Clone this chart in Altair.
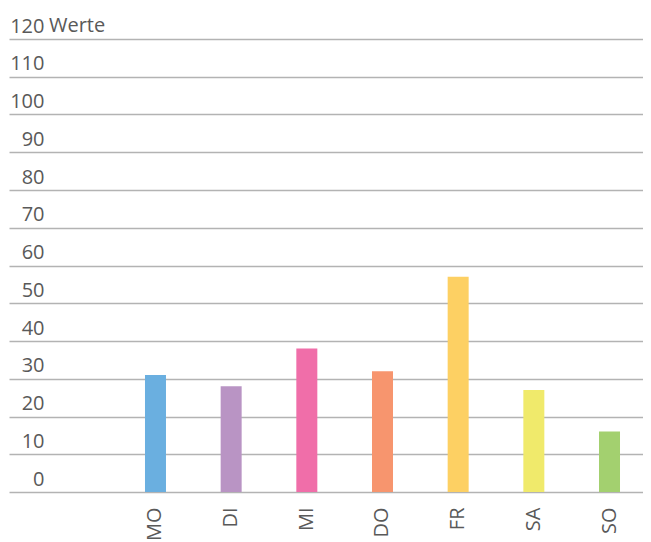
import altair as alt
import pandas as pd

days = ["MO", "DI", "MI", "DO", "FR", "SA", "SO"]
values = [31, 28, 38, 32, 57, 27, 16]
colors = ["#6aafe0", "#b994c4", "#f06ea9", "#f7956e", "#fdd063", "#f0ea6b", "#a3d06f"]
y_ticks = list(range(0, 121, 10))
unit_label = ["Werte"]
x_domain = [" "] + days  # empty leading slot as in the original

df = pd.DataFrame({"day": days, "value": values})

FONT = "Open Sans"
GRAY = "#595959"

y_axis = alt.Axis(
    title=None, values=y_ticks, labelFontSize=20, labelFont=FONT,
    labelColor=GRAY, domain=False, ticks=False, grid=True,
    gridColor="#b3b3b3", gridWidth=1.5, labelAlign="right",
    labelBaseline="alphabetic", labelPadding=-35, labelOffset=-7,
    labelOverlap=False,
)
y_scale = alt.Scale(domain=[0, 120], nice=False)

bars = alt.Chart(df).mark_bar().encode(
    x=alt.X(
        "day:N",
        sort=days,
        scale=alt.Scale(domain=x_domain, paddingInner=0.7225, paddingOuter=0.5505, align=0.724),
        axis=alt.Axis(
            title=None, labelAngle=270, labelFontSize=20, labelFont=FONT,
            labelColor=GRAY, domain=False, ticks=False, grid=False,
            labelPadding=15, labelAlign="right", labelBaseline="middle",
        ),
    ),
    y=alt.Y("value:Q", scale=y_scale, axis=y_axis),
    color=alt.Color("day:N", scale=alt.Scale(domain=days, range=colors), legend=None),
)

unit = alt.Chart(pd.DataFrame({"t": unit_label, "value": [120]})).mark_text(
    align="left", baseline="alphabetic", fontSize=20, font=FONT, color=GRAY, dy=-7
).encode(
    x=alt.value(40),
    y=alt.Y("value:Q", scale=y_scale, axis=y_axis),
    text="t:N",
)

chart = (
    alt.layer(bars, unit)
    .properties(
        width=634, height=453,
        autosize=alt.AutoSizeParams(type="none"),
        padding={"left": 1, "top": 31, "right": 0, "bottom": 48},
    )
    .configure_view(stroke=None)
)

chart.save("out.html", embed_options={"renderer": "svg", "actions": False})
